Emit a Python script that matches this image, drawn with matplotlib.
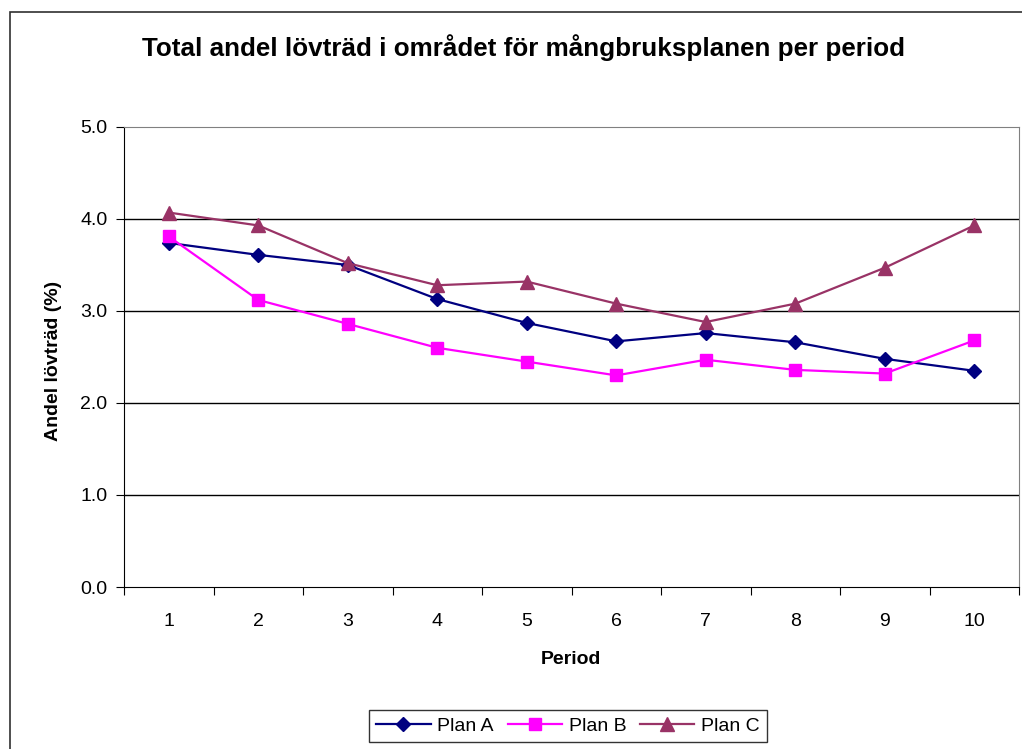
import matplotlib.pyplot as plt
from matplotlib.patches import Rectangle
import numpy as np

plt.rcParams['font.family'] = ['Liberation Sans', 'DejaVu Sans']

periods = [1, 2, 3, 4, 5, 6, 7, 8, 9, 10]
plan_a = [3.74, 3.61, 3.50, 3.13, 2.87, 2.67, 2.76, 2.66, 2.48, 2.35]
plan_b = [3.81, 3.12, 2.86, 2.60, 2.45, 2.30, 2.47, 2.36, 2.32, 2.68]
plan_c = [4.07, 3.93, 3.52, 3.28, 3.32, 3.08, 2.88, 3.08, 3.47, 3.93]
y_ticks = [0.0, 1.0, 2.0, 3.0, 4.0, 5.0]


def makeFig():
    fig = plt.figure(figsize=(10.22, 7.49), dpi=100)
    ax = fig.add_axes([124/1022, 1-587/749, 895/1022, 460/749])

    # outer chart frame
    fig.patches.append(Rectangle((10/1022, -0.05), 1.1, 1-12/749+0.05,
                                 transform=fig.transFigure, fill=False,
                                 edgecolor='#303030', linewidth=1.2))

    x = np.arange(len(periods))
    ax.plot(x, plan_a, color='#000080', marker='D', markersize=7.5,
            linewidth=1.6, label='Plan A')
    ax.plot(x, plan_b, color='#FF00FF', marker='s', markersize=8,
            linewidth=1.6, label='Plan B')
    ax.plot(x, plan_c, color='#993366', marker='^', markersize=10,
            linewidth=1.6, label='Plan C')

    ax.set_xlim(-0.5, len(periods) - 0.5)
    ax.set_ylim(0, 5)
    ax.set_yticks(y_ticks)
    ax.set_yticklabels([f'{v:.1f}' for v in y_ticks])
    for v in y_ticks[1:-1]:
        ax.axhline(v, color='black', linewidth=1, zorder=0)

    # category labels centered, tick marks at boundaries
    ax.set_xticks(np.arange(-0.5, len(periods), 1.0))
    ax.set_xticklabels([])
    ax.set_xticks(x, minor=True)
    ax.set_xticklabels([str(p) for p in periods], minor=True)
    ax.tick_params(axis='x', which='minor', length=0, pad=19, labelsize=14)
    ax.tick_params(axis='x', which='major', length=6, direction='out')
    ax.tick_params(axis='y', length=6, direction='out', labelsize=14, pad=6)

    for s in ['top', 'right']:
        ax.spines[s].set_color('#808080')
    for s in ['left', 'bottom']:
        ax.spines[s].set_color('black')

    fig.text(524/1022, 1-48/749, 'Total andel lövträd i området för mångbruksplanen per period',
             ha='center', va='center', fontsize=18.7, fontweight='bold')
    fig.text(571/1022, 1-660/749, 'Period', ha='center', va='center',
             fontsize=14, fontweight='bold')
    fig.text(54/1022, 1-361/749, 'Andel lövträd (%)', rotation=90,
             ha='center', va='center', fontsize=14, fontweight='bold')

    leg = fig.legend(loc='center', bbox_to_anchor=(568/1022, 1-726/749),
                     ncol=3, frameon=True, fancybox=False, fontsize=14,
                     handlelength=2.8, columnspacing=0.7, handletextpad=0.35,
                     borderpad=0.35, borderaxespad=0)
    leg.get_frame().set_edgecolor('black')
    leg.get_frame().set_linewidth(1)

    fig.savefig('out.png', dpi=100)


if __name__ == '__main__':
    makeFig()
